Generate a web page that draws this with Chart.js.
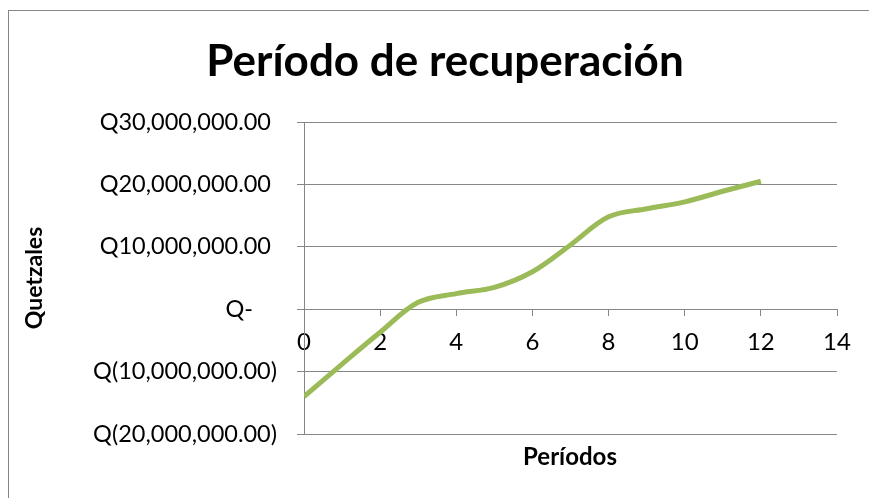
<!DOCTYPE html>
<html>
<head>
<meta charset="utf-8">
<script src="https://cdn.jsdelivr.net/npm/chart.js@4"></script>
<style>
    body { margin: 0; background: #ffffff; }
    #wrap { position: relative; width: 869px; height: 498px; overflow: hidden; }
    #frame { position: absolute; left: 8px; top: 10px; width: 900px; height: 600px;
             border-left: 1px solid #868686; border-top: 1px solid #868686; }
    canvas { position: absolute; left: 0; top: 0; }
</style>
</head>
<body>
<div id="wrap">
    <div id="frame"></div>
    <canvas id="payback-chart" width="869" height="498"></canvas>
</div>
<script>
// Data
const periods = [0, 1, 2, 3, 4, 5, 6, 7, 8, 9, 10, 11, 12];
const cumulative = [-14000000, -8800000, -3700000, 1100000, 2500000, 3500000, 6000000,
                    10300000, 14800000, 16100000, 17200000, 18900000, 20500000];
const xTicks = [0, 2, 4, 6, 8, 10, 12, 14];
const yTickValues = [-20000000, -10000000, 0, 10000000, 20000000, 30000000];
const yTickLabels = ['Q(20,000,000.00)', 'Q(10,000,000.00)', 'Q-    ',
                     'Q10,000,000.00 ', 'Q20,000,000.00 ', 'Q30,000,000.00 '];

const chartTitle = 'Período de recuperación';
const xTitle = 'Períodos';
const yTitle = 'Quetzales';

const gray = '#868686';
const fontFamily = 'Lato, "Open Sans", sans-serif';

// Titles drawn by hand so they sit where Excel put them
const titlesPlugin = {
    id: 'titles',
    afterDraw(chart) {
        const ctx = chart.ctx;
        const area = chart.chartArea;
        ctx.save();
        ctx.fillStyle = '#000000';
        ctx.textAlign = 'center';
        ctx.textBaseline = 'middle';

        ctx.font = 'bold 44px ' + fontFamily;
        ctx.fillText(chartTitle, 445, 62);

        ctx.font = 'bold 24px ' + fontFamily;
        ctx.fillText(xTitle, 570, 457);

        ctx.font = 'bold 23px ' + fontFamily;
        ctx.translate(35, (area.top + area.bottom) / 2);
        ctx.rotate(-Math.PI / 2);
        ctx.fillText(yTitle, 0, 0);
        ctx.restore();
    }
};

const ctx = document.getElementById('payback-chart').getContext('2d');
const paybackChart = new Chart(ctx, {
    type: 'line',
    data: {
        datasets: [{
            label: 'Flujo acumulado',
            data: periods.map((p, i) => ({ x: p, y: cumulative[i] })),
            borderColor: '#9BBB59',
            borderWidth: 5,
            pointRadius: 0,
            tension: 0.35,
            fill: false
        }]
    },
    options: {
        responsive: false,
        animation: false,
        layout: {
            padding: { top: 122, bottom: 64, left: 0, right: 32 }
        },
        plugins: {
            legend: { display: false },
            tooltip: { enabled: false }
        },
        scales: {
            x: {
                type: 'linear',
                position: { y: 0 },
                min: 0,
                max: 14,
                afterBuildTicks: scale => {
                    scale.ticks = xTicks.map(v => ({ value: v }));
                },
                ticks: {
                    color: '#000000',
                    font: { family: fontFamily, size: 24 },
                    padding: 13,
                    maxRotation: 0
                },
                grid: {
                    drawOnChartArea: false,
                    drawTicks: true,
                    tickLength: 6,
                    color: gray
                },
                border: { color: gray, width: 1 }
            },
            y: {
                type: 'linear',
                min: -20000000,
                max: 30000000,
                afterBuildTicks: scale => {
                    scale.ticks = yTickValues.map(v => ({ value: v }));
                },
                afterFit: scale => {
                    scale.width = 304;
                },
                ticks: {
                    color: '#000000',
                    font: { family: fontFamily, size: 23.5 },
                    padding: 20,
                    callback: value => yTickLabels[yTickValues.indexOf(value)]
                },
                grid: {
                    color: gray,
                    tickLength: 7,
                    drawTicks: true
                },
                border: { color: gray, width: 1 }
            }
        }
    },
    plugins: [titlesPlugin]
});
</script>
</body>
</html>
